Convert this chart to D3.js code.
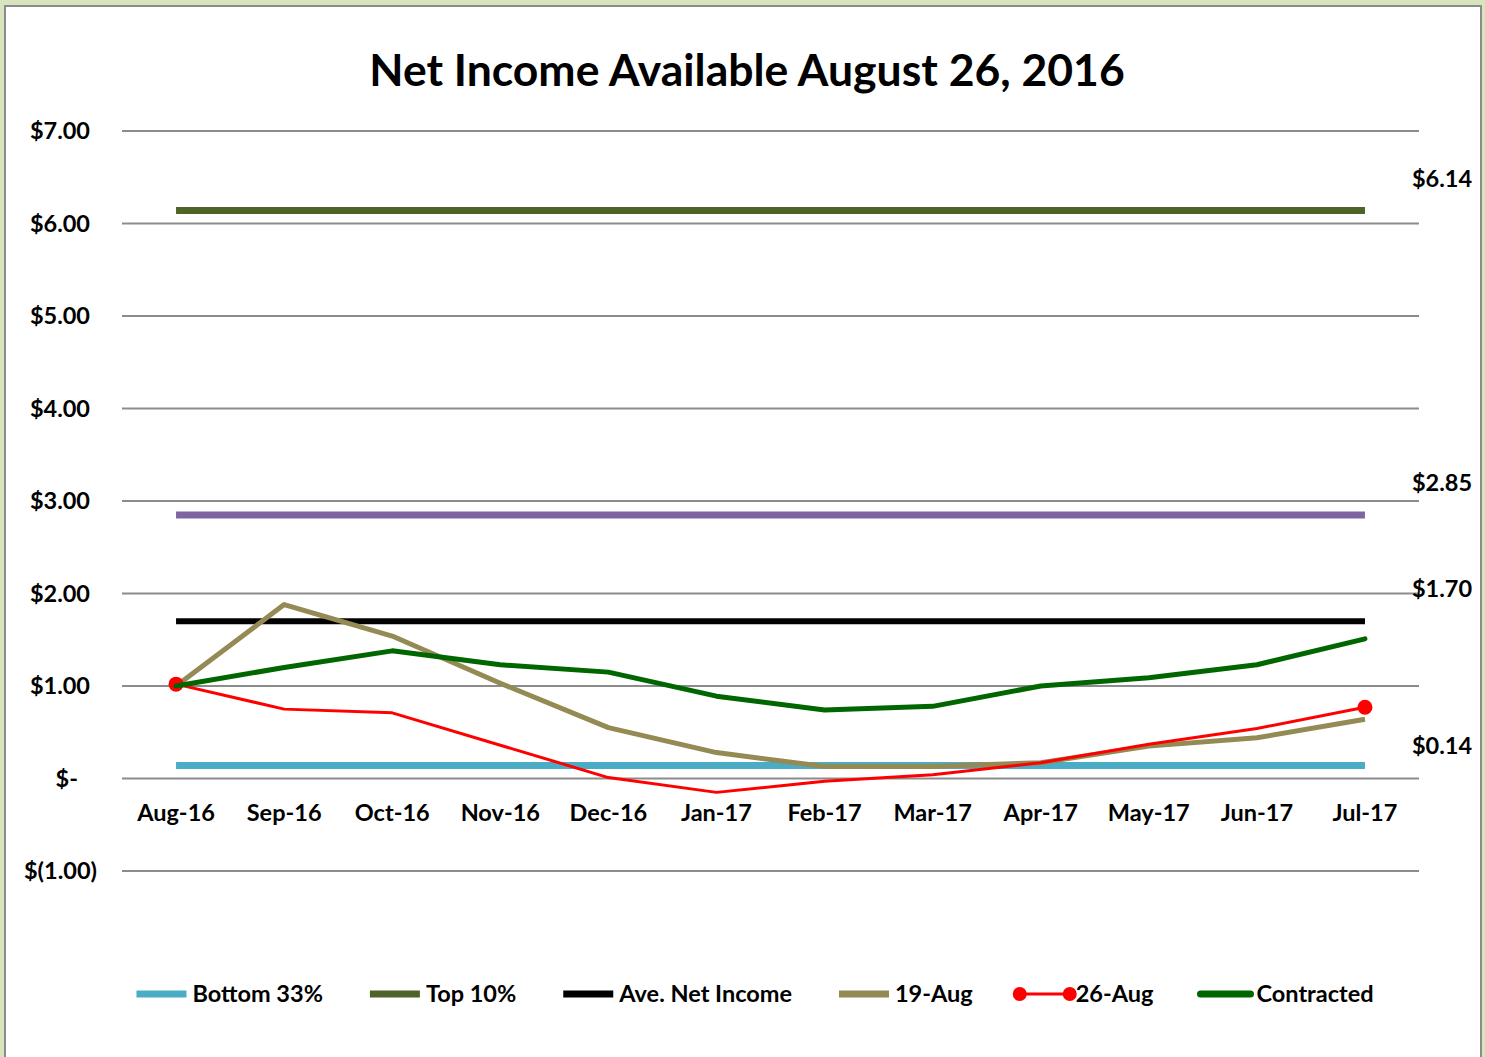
<!DOCTYPE html>
<html>
<head>
<meta charset="utf-8">
<script src="https://cdn.jsdelivr.net/npm/d3@7"></script>
<style>
  body { margin: 0; background: #d7e4bd; }
  svg { display: block; }
  text { font-family: Lato, "Open Sans", sans-serif; font-weight: bold; fill: #000; }
</style>
</head>
<body>
<svg id="chart"></svg>
<script>
const width = 1485;
const height = 1057;

const months = ['Aug-16', 'Sep-16', 'Oct-16', 'Nov-16', 'Dec-16', 'Jan-17',
                'Feb-17', 'Mar-17', 'Apr-17', 'May-17', 'Jun-17', 'Jul-17'];
const yTicks = [-1, 0, 1, 2, 3, 4, 5, 6, 7];

// flat reference levels
const bottom33 = 0.14;
const top10 = 6.14;
const purpleLevel = 2.85;
const aveNetIncome = 1.70;

const aug19 = [1.00, 1.88, 1.54, 1.03, 0.55, 0.28, 0.13, 0.13, 0.17, 0.35, 0.44, 0.64];
const aug26 = [1.02, 0.75, 0.71, 0.36, 0.01, -0.15, -0.03, 0.04, 0.17, 0.37, 0.54, 0.77];
const contracted = [1.00, 1.20, 1.38, 1.23, 1.15, 0.89, 0.74, 0.78, 1.00, 1.09, 1.23, 1.51];

const colors = {
    bottom: '#4bacc6',
    top: '#4f6228',
    purple: '#8064a2',
    ave: '#000000',
    aug19: '#948a54',
    aug26: '#ff0000',
    contracted: '#006600'
};

const fs = 23.5;
const margin = { left: 122, right: 66, top: 131, bottom: 186 };

const svg = d3.select('#chart')
    .attr('width', width)
    .attr('height', height);

// chart area frame
svg.append('rect')
    .attr('x', 5).attr('y', 6)
    .attr('width', 1476).attr('height', 1060)
    .attr('fill', '#fff')
    .attr('stroke', '#8c8c8c')
    .attr('stroke-width', 2);

const x = d3.scalePoint()
    .domain(months)
    .range([margin.left, width - margin.right])
    .padding(0.5);

const y = d3.scaleLinear()
    .domain([-1, 7])
    .range([871, 131]);

svg.append('text')
    .attr('x', 747)
    .attr('y', 86)
    .attr('text-anchor', 'middle')
    .attr('font-size', 44.5)
    .text('Net Income Available August 26, 2016');

// gridlines
svg.append('g')
    .selectAll('line')
    .data(yTicks)
    .join('line')
    .attr('x1', margin.left)
    .attr('x2', width - margin.right)
    .attr('y1', d => y(d))
    .attr('y2', d => y(d))
    .attr('stroke', '#8c8c8c')
    .attr('stroke-width', 2);

// y labels, accounting style
const fmt = d => d === 0 ? '$-' : d < 0 ? `$(${d3.format('.2f')(-d)})` : `$${d3.format('.2f')(d)}`;
svg.append('g')
    .selectAll('text')
    .data(yTicks)
    .join('text')
    .attr('x', d => 90 + (d < 0 ? 7 : d === 0 ? -12 : 0))
    .attr('y', d => y(d))
    .attr('dy', '0.35em')
    .attr('text-anchor', 'end')
    .attr('font-size', fs)
    .text(fmt);

// x labels
svg.append('g')
    .selectAll('text')
    .data(months)
    .join('text')
    .attr('x', d => x(d))
    .attr('y', 821)
    .attr('text-anchor', 'middle')
    .attr('font-size', fs)
    .text(d => d);

const line = d3.line()
    .x((d, i) => x(months[i]))
    .y(d => y(d));

const flat = v => months.map(() => v);

const series = [
    { name: 'purple', values: flat(purpleLevel), color: colors.purple, w: 7, label: purpleLevel },
    { name: 'Bottom 33%', values: flat(bottom33), color: colors.bottom, w: 7, label: bottom33, legend: true },
    { name: 'Top 10%', values: flat(top10), color: colors.top, w: 7, label: top10, legend: true },
    { name: 'Ave. Net Income', values: flat(aveNetIncome), color: colors.ave, w: 6, label: aveNetIncome, legend: true },
    { name: '19-Aug', values: aug19, color: colors.aug19, w: 5, legend: true },
    { name: '26-Aug', values: aug26, color: colors.aug26, w: 3, legend: true, markers: true },
    { name: 'Contracted', values: contracted, color: colors.contracted, w: 5, legend: true, round: true }
];

series.forEach(s => {
    svg.append('path')
        .datum(s.values)
        .attr('d', line)
        .attr('fill', 'none')
        .attr('stroke', s.color)
        .attr('stroke-width', s.w)
        .attr('stroke-linejoin', 'round')
        .attr('stroke-linecap', s.round ? 'round' : 'butt');
    if (s.markers) {
        const ends = [0, s.values.length - 1];
        svg.append('g')
            .selectAll('circle')
            .data(ends)
            .join('circle')
            .attr('cx', i => x(months[i]))
            .attr('cy', i => y(s.values[i]))
            .attr('r', 7.5)
            .attr('fill', s.color);
    }
});

// contracted drawn on top of the red markers
svg.select('path:last-of-type').raise();

// value labels at the right end
svg.append('g')
    .selectAll('text')
    .data(series.filter(s => s.label !== undefined))
    .join('text')
    .attr('x', 1442)
    .attr('y', s => y(s.label) - (s.label < 1 ? 20 : 32))
    .attr('dy', '0.35em')
    .attr('text-anchor', 'middle')
    .attr('font-size', fs)
    .text(s => `$${d3.format('.2f')(s.label)}`);

// legend
const legendItems = ['Bottom 33%', 'Top 10%', 'Ave. Net Income', '19-Aug', '26-Aug', 'Contracted']
    .map(n => series.find(s => s.name === n));
const legend = svg.append('g');
const sampleLen = 50, textGap = 6, itemGap = 47, legendY = 994;
let cursor = 0;
legendItems.forEach(s => {
    const g = legend.append('g');
    g.append('line')
        .attr('x1', 0).attr('x2', sampleLen)
        .attr('y1', 0).attr('y2', 0)
        .attr('stroke', s.color)
        .attr('stroke-width', s.markers ? 3 : 7)
        .attr('stroke-linecap', s.round ? 'round' : 'butt');
    if (s.markers) {
        g.selectAll('circle').data([0, sampleLen]).join('circle')
            .attr('cx', d => d).attr('cy', 0).attr('r', 7).attr('fill', s.color);
    }
    const t = g.append('text')
        .attr('x', sampleLen + textGap)
        .attr('dy', '0.35em')
        .attr('font-size', fs)
        .text(s.name);
    const w = sampleLen + textGap + t.node().getComputedTextLength();
    g.attr('transform', `translate(${cursor},${legendY})`);
    cursor += w + itemGap;
});
const totalW = cursor - itemGap;
legend.attr('transform', `translate(${755 - totalW / 2},0)`);
</script>
</body>
</html>
